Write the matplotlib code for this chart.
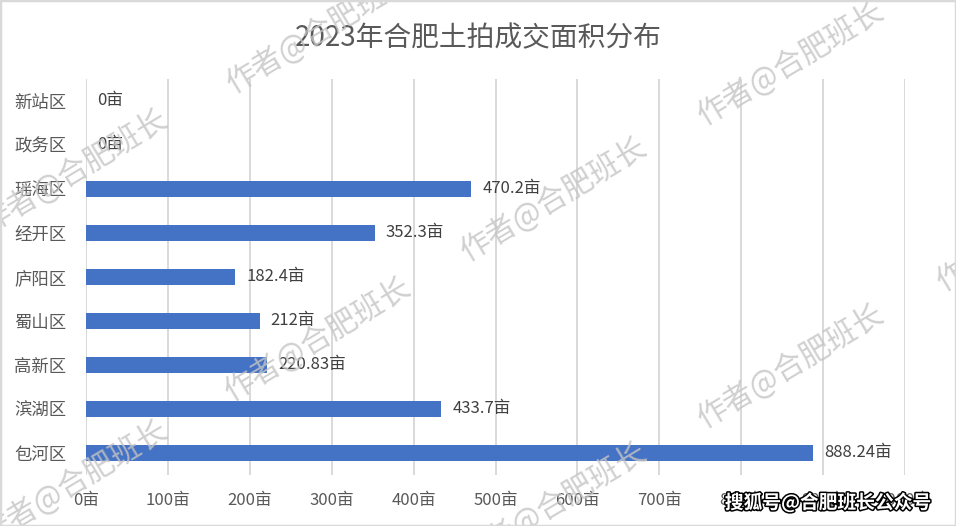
import matplotlib
matplotlib.use("Agg")
import matplotlib.pyplot as plt
import matplotlib.patheffects as pe
from matplotlib.patches import Rectangle

plt.rcParams['font.family'] = ['Noto Sans CJK SC', 'DejaVu Sans']

districts = ["新站区", "政务区", "瑶海区", "经开区", "庐阳区", "蜀山区", "高新区", "滨湖区", "包河区"]
areas = [0, 0, 470.2, 352.3, 182.4, 212, 220.83, 433.7, 888.24]
x_ticks = [0, 100, 200, 300, 400, 500, 600, 700, 800, 900, 1000]
x_tick_labels = [f"{t}亩" for t in x_ticks]
title = "2023年合肥土拍成交面积分布"
watermark = "作者@合肥班长"
source_mark = "搜狐号@合肥班长公众号"

W, H = 956, 526
fig = plt.figure(figsize=(W / 100, H / 100), dpi=100)
fig.patch.set_facecolor("white")

ax = fig.add_axes([86 / W, 1 - 475 / H, (905 - 86) / W, (475 - 79) / H])
ypos = list(range(len(districts)))
bars = ax.barh(ypos, areas, height=0.36, color="#4472C4", zorder=3)
ax.set_ylim(len(districts) - 0.5, -0.5)
ax.set_xlim(0, 1000)
ax.set_yticks(ypos)
ax.set_yticklabels(districts, fontsize=12.5, color="#595959")
ax.set_xticks(x_ticks)
ax.set_xticklabels(x_tick_labels, fontsize=12, color="#595959")
ax.tick_params(axis="y", length=0, pad=14)
ax.tick_params(axis="x", length=0, pad=12)
for s in ax.spines.values():
    s.set_visible(False)
ax.grid(axis="x", color="#d9d9d9", linewidth=1.4, zorder=0)
ax.set_axisbelow(True)

ax.bar_label(bars, labels=[f"{v:g}亩" for v in areas], padding=8,
             fontsize=12, color="#404040")

fig.text(0.5, 1 - 38 / H, title, ha="center", va="center", fontsize=20,
         color="#595959", fontweight="light")

# watermarks (pixel centers)
wm_centers = [(75, 172), (75, 483), (320, 32), (318, 340), (554, 200), (554, 505),
              (791, 64), (791, 367), (1030, 230)]
for cx, cy in wm_centers:
    fig.text(cx / W, 1 - cy / H, watermark, ha="center", va="center", rotation=31,
             rotation_mode="anchor", fontsize=22, color="#c4c4c4", alpha=0.8,
             fontweight="light", zorder=20)

fig.text(828 / W, 1 - 503 / H, source_mark, ha="center", va="center", fontsize=13.5,
         color="white", fontweight="bold", zorder=30,
         path_effects=[pe.withStroke(linewidth=2.2, foreground="black")])

fig.patches.append(Rectangle((0, 0), 1, 1, transform=fig.transFigure, fill=False,
                             edgecolor="#d9d9d9", linewidth=2.5, zorder=40))

fig.savefig("out.png", dpi=100)
